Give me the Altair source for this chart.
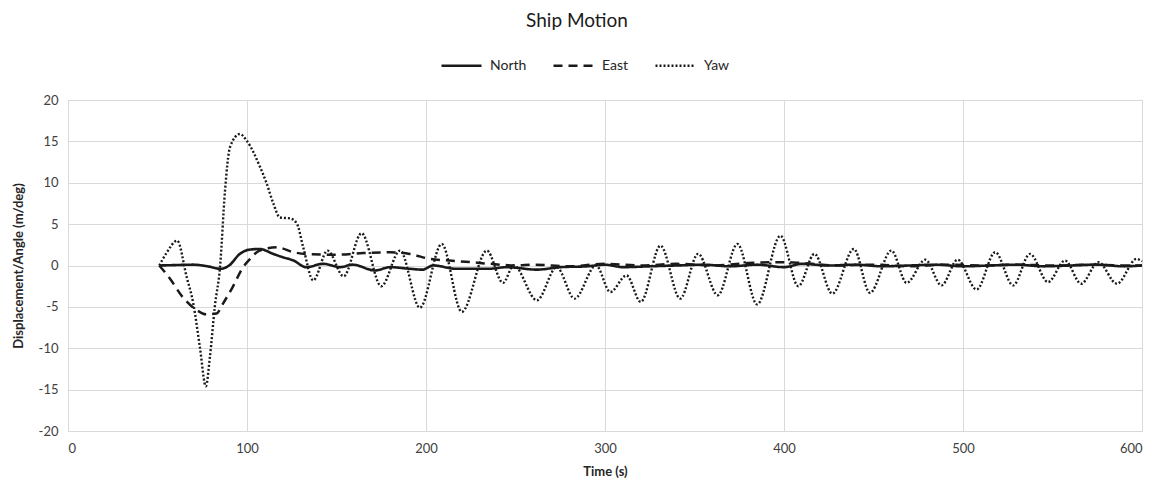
import altair as alt
import pandas as pd

# North (solid)
north_t = [51, 60, 70, 78, 85, 90, 96, 101, 107, 114.7, 120, 126, 133, 142.6, 152, 159, 171.5, 180, 191, 198, 204, 217, 235, 245, 262, 275, 290, 300, 310, 325, 340, 355, 370, 385, 400, 410, 425, 440, 455, 470, 485, 500, 515, 530, 545, 560, 575, 590, 600]
north_v = [0, 0.05, 0.1, -0.1, -0.4, 0.0, 1.4, 1.9, 2.0, 1.4, 1.0, 0.6, -0.2, 0.2, -0.2, 0.1, -0.6, -0.2, -0.4, -0.5, 0.0, -0.4, -0.4, -0.2, -0.5, -0.2, -0.1, 0.1, -0.2, -0.1, 0.0, 0.1, -0.1, 0.1, -0.2, 0.2, 0.0, 0.1, -0.1, 0.0, 0.1, -0.1, 0.0, 0.1, -0.1, 0.0, 0.1, -0.1, 0.0]

# East (dashed)
east_t = [51, 57, 64, 72, 77, 83, 86.6, 92, 97.8, 101.7, 107, 116.6, 126, 133, 150, 165, 180, 191, 202, 213, 225, 236, 250, 260, 280, 300, 320, 340, 360, 380, 400, 410, 430, 450, 470, 490, 510, 530, 550, 570, 590, 600]
east_v = [0, -1.6, -3.8, -5.4, -5.9, -5.8, -4.6, -2.6, -0.2, 0.8, 1.8, 2.2, 1.6, 1.4, 1.3, 1.5, 1.6, 1.4, 0.8, 0.6, 0.4, 0.2, 0.0, 0.1, -0.1, 0.2, 0.0, 0.2, 0.0, 0.3, 0.4, 0.3, 0.0, 0.1, -0.1, 0.1, 0.0, 0.1, 0.0, 0.1, 0.0, 0.0]

# Yaw (dotted)
yaw_t = [51, 55, 61, 66.3, 70, 73.7, 77, 79.3, 82, 85, 87.7, 90.5, 96, 99.8, 107.3, 111, 114.7, 118.4, 124, 127.8, 131.4, 137, 145, 154, 164, 175, 185.5, 196.6, 208.8, 220, 234, 243, 249, 262, 273, 283, 295, 303, 312, 320, 331, 342, 352, 363, 374, 385, 398, 408, 417, 427, 439, 448, 460, 468.5, 479, 488, 497, 507.6, 518, 528, 537.4, 547.5, 557, 566, 575.6, 586, 597, 600]
yaw_v = [0, 1.5, 3.0, -1.4, -4.6, -9.9, -14.6, -11.0, -5.0, 0.0, 9.0, 14.3, 15.9, 15.1, 11.9, 9.9, 7.5, 5.8, 5.7, 5.1, 2.2, -1.8, 1.8, -1.3, 3.9, -2.5, 1.8, -5.1, 2.6, -5.6, 1.8, -2.1, 0.0, -4.2, -0.2, -4.0, 0.0, -3.2, -1.2, -4.4, 2.4, -4.0, 1.4, -3.6, 2.6, -4.7, 3.6, -2.5, 1.4, -3.4, 2.0, -3.3, 1.8, -2.1, 0.7, -2.4, 0.7, -2.9, 1.6, -2.4, 1.4, -2.0, 0.6, -2.2, 0.4, -2.2, 0.8, 0.5]

series = ["North", "East", "Yaw"]
x_ticks = [0, 100, 200, 300, 400, 500, 600]
y_ticks = [-20, -15, -10, -5, 0, 5, 10, 15, 20]

rows = []
for name, ts, vs in [("North", north_t, north_v), ("East", east_t, east_v), ("Yaw", yaw_t, yaw_v)]:
    for i, (t, v) in enumerate(zip(ts, vs)):
        rows.append({"Time": t, "Value": v, "Series": name, "order": i})
df = pd.DataFrame(rows)

FONT = "Lato"
GREY = "#404040"

chart = alt.Chart(df).mark_line(interpolate="monotone", color="#1a1a1a").encode(
    x=alt.X("Time:Q", scale=alt.Scale(domain=[0, 600], nice=False),
            axis=alt.Axis(values=x_ticks, title="Time (s)", grid=True, ticks=False,
                          labelPadding=11, titlePadding=10, labelFontSize=13,
                          titleFontSize=13, titleFontWeight="bold")),
    y=alt.Y("Value:Q", scale=alt.Scale(domain=[-20, 20], nice=False),
            axis=alt.Axis(values=y_ticks, title="Displacement/Angle (m/deg)", grid=True,
                          ticks=False, labelPadding=10, titleX=-43, labelFontSize=13,
                          labelExpr="'' + datum.value",
                          titleFontSize=13, titleFontWeight="bold")),
    strokeDash=alt.StrokeDash("Series:N",
                              scale=alt.Scale(domain=series, range=[[1, 0], [9, 6], [2, 2]]),
                              legend=alt.Legend(title=None, orient="none", direction="horizontal",
                                                legendX=372, legendY=-56, symbolType="stroke",
                                                symbolSize=1600, symbolStrokeWidth=2.5,
                                                symbolStrokeColor="#1a1a1a", labelFontSize=14,
                                                labelColor="#262626", labelFont=FONT, columnPadding=21,
                                                labelOffset=7)),
    strokeWidth=alt.StrokeWidth("Series:N", scale=alt.Scale(domain=series, range=[2.6, 2.4, 2.2]),
                                legend=None),
    order="order:Q",
    detail="Series:N",
).properties(
    width=1074,
    height=331,
    autosize=alt.AutoSizeParams(type="none"),
    padding={"left": 60, "top": 92, "right": 9, "bottom": 48},
    title=alt.TitleParams("Ship Motion", anchor="middle", dx=-28, fontSize=19,
                          font=FONT, fontWeight="normal", color="#1a1a1a", offset=13),
).configure_axis(
    gridColor="#d9d9d9", domainColor="#d9d9d9", labelColor=GREY, titleColor="#262626",
    labelFont=FONT, titleFont=FONT,
).configure_view(stroke="#d9d9d9")

chart.save("out.html", embed_options={"renderer": "svg", "actions": False})
